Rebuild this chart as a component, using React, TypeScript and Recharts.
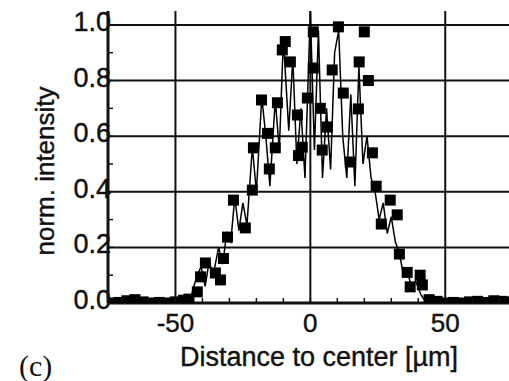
import { ComposedChart, XAxis, YAxis, CartesianGrid, Line, Scatter, Label } from 'recharts';

// measured squares (distance in µm, normalised intensity)
const pointX = [
  -74, -71, -68, -65, -62, -59, -56, -53, -50, -47, -45,
  -41.9, -40.7, -38.9, -35.2, -33.3, -32.2, -30.7, -28.5, -24.1, -21.5,
  -21.1, -18.1, -15.9, -15.2, -13, -12.2, -10.4, -9.3, -7.4, -4.8,
  -4.4, -3, -1.1, 1.1, 1.1, 3.7, 4.4, 6.3, 8.1, 10.4,
  12.2, 14.8, 17.8, 18.1, 20, 21.5, 23, 24.4, 26.3, 29.6,
  32.2, 33, 35.9, 37, 40.7, 41.5,
  44, 47, 50, 53, 56, 59, 62, 65, 68, 71, 74,
];
const pointY = [
  0.0, 0.002, 0.008, 0.012, 0.004, 0.0, 0.002, 0.0, 0.004, 0.01, 0.014,
  0.04, 0.094, 0.144, 0.108, 0.083, 0.16, 0.237, 0.37, 0.27, 0.406,
  0.558, 0.73, 0.61, 0.482, 0.558, 0.72, 0.91, 0.94, 0.867, 0.676,
  0.53, 0.56, 0.737, 0.975, 0.845, 0.7, 0.55, 0.633, 0.838, 0.993,
  0.755, 0.507, 0.698, 0.867, 0.975, 0.8, 0.54, 0.42, 0.284, 0.37,
  0.317, 0.176, 0.11, 0.058, 0.1, 0.065,
  0.012, 0.006, 0.0, 0.002, 0.0, 0.004, 0.006, 0.002, 0.008, 0.006, 0.004,
];

// fitted curve
const fitX = [
  -75, -46, -44, -42, -40.5, -39, -37.5, -36, -34, -32.5,
  -31, -29.5, -28, -26.5, -25, -23.5, -21.5, -20, -18, -16.5,
  -15, -13, -11.5, -10, -8, -6.5, -5, -3.5, -2, 0,
  1.5, 3, 4.5, 6, 7.5, 9, 10.5, 12, 13.5, 15,
  16.5, 18, 19.5, 21, 22.5, 24, 25.5, 27, 28.5, 30,
  31.5, 33, 34.5, 36, 37.5, 39, 41, 43, 47, 74,
];
const fitY = [
  0, 0, 0.03, 0.1, 0.13, 0.06, 0.15, 0.1, 0.2, 0.14,
  0.25, 0.22, 0.38, 0.26, 0.36, 0.28, 0.56, 0.4, 0.74, 0.6,
  0.42, 0.73, 0.55, 0.95, 0.62, 0.88, 0.5, 0.7, 0.45, 1.05,
  0.55, 0.98, 0.45, 0.7, 0.48, 0.9, 0.98, 0.6, 0.45, 0.75,
  0.42, 0.85, 0.5, 0.6, 0.45, 0.4, 0.3, 0.36, 0.25, 0.31,
  0.22, 0.18, 0.1, 0.12, 0.05, 0.08, 0.03, 0, 0, 0,
];

const xTicks = [-70, -60, -50, -40, -30, -20, -10, 0, 10, 20, 30, 40, 50, 60, 70];
const xMajor = [-50, 0, 50];
const yTicks = [0, 0.1, 0.2, 0.3, 0.4, 0.5, 0.6, 0.7, 0.8, 0.9, 1.0];
const yGrid = [0.2, 0.4, 0.6, 0.8, 1.0];

const points = pointX.map((x, i) => ({ x, y: pointY[i] }));
const fit = fitX.map((x, i) => ({ x, y: fitY[i] }));

const FONT = '"Liberation Sans", Arial, sans-serif';
const INK = '#111';

function XTick({ x, y, payload }: any) {
  const major = xMajor.includes(payload.value);
  return (
    <g>
      <line x1={x} x2={x} y1={y} y2={y - 5} stroke={INK} strokeWidth={1.5} />
      {major && (
        <text x={x} y={y + 29} textAnchor="middle" fontSize={26} fontFamily={FONT} fill={INK} stroke={INK} strokeWidth={0.4}>
          {payload.value}
        </text>
      )}
    </g>
  );
}

function YTick({ x, y, payload }: any) {
  const major = Math.round(payload.value * 10) % 2 === 0;
  return (
    <g>
      <line x1={x} x2={x + 5} y1={y} y2={y} stroke={INK} strokeWidth={1.5} />
      {major && (
        <text x={x + 3} y={y + 6} textAnchor="end" fontSize={27} fontFamily={FONT} fill={INK} stroke={INK} strokeWidth={0.4}>
          {payload.value.toFixed(1)}
        </text>
      )}
    </g>
  );
}

function Square({ cx, cy }: any) {
  return <rect x={cx - 5.5} y={cy - 5.5} width={11} height={11} fill="#000" />;
}

export default function App() {
  return (
    <div style={{ position: 'absolute', left: 0, top: 0, width: 509, height: 381, background: '#fff' }}>
      <ComposedChart width={510} height={381} margin={{ top: 11, right: 0, left: 0, bottom: 0 }}>
        <CartesianGrid
          stroke={INK}
          strokeWidth={2}
          verticalValues={xMajor}
          horizontalValues={yGrid}
        />
        <XAxis
          type="number"
          dataKey="x"
          domain={[-75, 74]}
          ticks={xTicks}
          allowDataOverflow
          height={78}
          tickSize={0}
          tickMargin={0}
          tickLine={false}
          tick={<XTick />}
          axisLine={{ stroke: INK, strokeWidth: 3 }}
          label={
            <Label
              content={() => (
                <text x={319} y={366} textAnchor="middle" fontSize={27} fontFamily={FONT} fill={INK} stroke={INK} strokeWidth={0.4}>
                  Distance to center [µm]
                </text>
              )}
            />
          }
        />
        <YAxis
          type="number"
          domain={[0, 1.05]}
          ticks={yTicks}
          allowDataOverflow
          width={108}
          tickSize={0}
          tickMargin={0}
          tickLine={false}
          tick={<YTick />}
          axisLine={{ stroke: INK, strokeWidth: 3 }}
          label={
            <Label
              content={() => (
                <text
                  x={54}
                  y={171}
                  textAnchor="middle"
                  fontSize={26}
                  fontFamily={FONT}
                  fill={INK}
                  stroke={INK}
                  strokeWidth={0.4}
                  transform="rotate(-90 54 171)"
                >
                  norm. intensity
                </text>
              )}
            />
          }
        />
        <Line
          data={fit}
          dataKey="y"
          type="linear"
          stroke="#000"
          strokeWidth={1.5}
          dot={false}
          isAnimationActive={false}
        />
        <Scatter data={points} dataKey="y" shape={<Square />} isAnimationActive={false} />
      </ComposedChart>
      <div
        style={{
          position: 'absolute',
          left: 19,
          top: 350,
          fontFamily: '"Liberation Serif", "Times New Roman", serif',
          fontSize: 30,
          color: INK,
          lineHeight: '32px',
        }}
      >
        (c)
      </div>
    </div>
  );
}
